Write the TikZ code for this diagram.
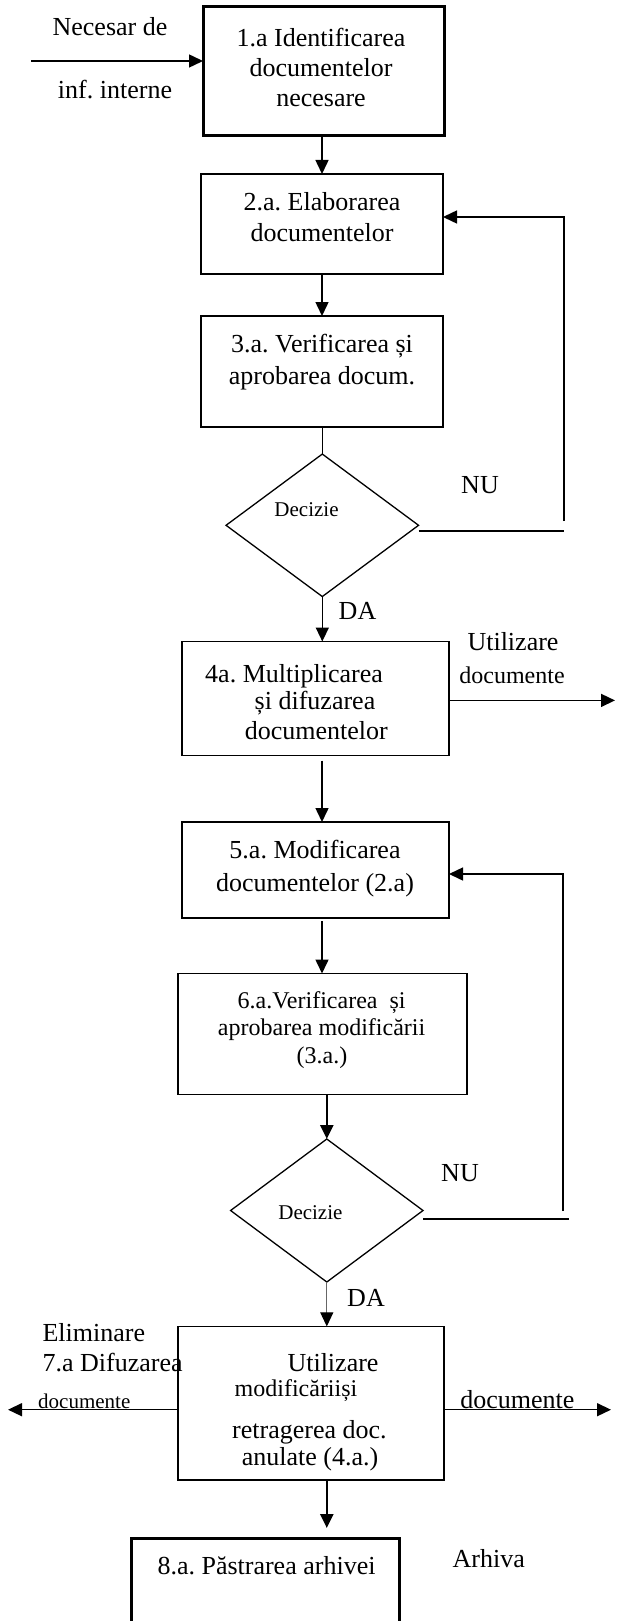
\documentclass[tikz,border=0pt]{standalone}
\usepackage{fontspec}
\setmainfont{Liberation Serif}
\frenchspacing
\usetikzlibrary{arrows.meta,shapes.geometric}
\tikzset{
  box/.style={draw, line width=1.8pt, inner sep=0pt, outer sep=0pt, anchor=north west},
  thickbox/.style={box, line width=3pt},
  dec/.style={draw, diamond, line width=1.3pt, inner sep=0pt, outer sep=0pt},
  arr/.style={-{Triangle[length=14pt,width=13pt]}, line width=1.5pt},
  heavyarr/.style={arr, line width=2.4pt},
  thinarr/.style={-{Triangle[length=14pt,width=13pt,color=black]}, line width=1pt, draw=black!60},
  ln/.style={line width=1.5pt},
  txt/.style={inner sep=0pt, anchor=base, font=\fontsize{26}{31}\selectfont},
  txtm/.style={txt, font=\fontsize{24}{29}\selectfont},
  txts/.style={txt, font=\fontsize{21}{25}\selectfont},
}
\begin{document}
\begin{tikzpicture}[x=1pt,y=-1pt]
\useasboundingbox (0,0) rectangle (616,1621);
% boxes
\node[thickbox, minimum width=241pt, minimum height=129.3pt] (b1) at (203,6.3) {};
\node[box, minimum width=242pt, minimum height=100pt] (b2) at (201,174) {};
\node[box, minimum width=242pt, minimum height=111pt] (b3) at (201,316) {};
\node[dec, minimum width=192.5pt, minimum height=142.5pt] (d1) at (322.3,525.3) {};
\node[box, minimum width=266.7pt, minimum height=114pt] (b4) at (182,641.5) {};
\node[box, minimum width=267pt, minimum height=96pt] (b5) at (182,822) {};
\node[box, minimum width=289.2pt, minimum height=121pt] (b6) at (177.6,973.5) {};
\node[dec, minimum width=192.4pt, minimum height=143pt] (d2) at (326.8,1210.5) {};
\node[box, minimum width=266.4pt, minimum height=153.2pt] (b7) at (177.6,1326.4) {};
\node[thickbox, minimum width=268pt, minimum height=120pt] (b8) at (131,1538) {};
% helper coordinates
\coordinate (col) at (322,0);
\coordinate (inS) at (31,61);
\coordinate (r1) at (564,531);
\coordinate (r1t) at (564,521);
\coordinate (r1b) at (564,217);
\coordinate (o1) at (615,700.4);
\coordinate (r2) at (568.6,1219);
\coordinate (r2t) at (563,1211);
\coordinate (r2b) at (563,874);
\coordinate (oL) at (8,1409.7);
\coordinate (oR) at (611,1409.7);
% connectors
\draw[arr] (inS) -- (inS -| b1.west);
\draw[arr] (b1.south -| col) -- (b2.north -| col);
\draw[arr] (b2.south -| col) -- (b3.north -| col);
\draw[ln] (b3.south -| d1.north) -- (d1.north);
\draw[arr] (d1.south) -- (d1.south |- b4.north);
\draw[ln] (d1.east |- r1) -- (r1);
\draw[arr] (r1t) -- (r1b) -- (r1b -| b2.east);
\draw[arr] (b4.east |- o1) -- (o1);
\draw[arr, shorten <=5pt] (b4.south -| col) -- (b5.north -| col);
\draw[arr, shorten <=3pt] (b5.south -| col) -- (b6.north -| col);
\draw[ln] (d2.east |- r2) -- (r2);
\draw[arr] (r2t) -- (r2b) -- (r2b -| b5.east);
\draw[heavyarr] (b6.south -| d2.north) -- (d2.north);
\draw[thinarr] (d2.south) -- (d2.south |- b7.north);
\draw[arr] (b7.west |- oL) -- (oL);
\draw[arr] (b7.east |- oR) -- (oR);
\draw[heavyarr, shorten >=10pt] (b7.south -| d2.south) -- (b8.north -| d2.south);
% texts
\node[txt] (n1) at (110,36) {Necesar de};
\node[txt] (n2) at (115,98.5) {inf. interne};
\node[txt] (t1a) at (321,46.5) {1.a Identificarea};
\node[txt] (t1b) at (321,77) {documentelor};
\node[txt] (t1c) at (321,107) {necesare};
\node[txt] (t2a) at (322,211) {2.a. Elaborarea};
\node[txt] (t2b) at (322,242) {documentelor};
\node[txt] (t3a) at (322,352.5) {3.a. Verificarea și};
\node[txt] (t3b) at (322,384) {aprobarea docum.};
\node[txts] (dz1) at (306.5,516) {Decizie};
\node[txt] (nu1) at (480,493) {NU};
\node[txt] (da1) at (357.5,619) {DA};
\node[txt] (t4a) at (294,682) {4a. Multiplicarea};
\node[txt] (t4b) at (315,709.4) {și difuzarea};
\node[txt] (t4c) at (316.3,739.7) {documentelor};
\node[txt] (u1) at (513,650) {Utilizare};
\node[txtm] (u1b) at (512,683) {documente};
\node[txt] (t5a) at (315,858.7) {5.a. Modificarea};
\node[txt] (t5b) at (315,891) {documentelor (2.a)};
\node[txtm] (t6a) at (321.6,1008) {6.a.Verificarea\ \ și};
\node[txtm] (t6b) at (321.6,1035.6) {aprobarea modificării};
\node[txtm] (t6c) at (322,1063) {(3.a.)};
\node[txts] (dz2) at (310.4,1219) {Decizie};
\node[txt] (nu2) at (460,1181) {NU};
\node[txt] (da2) at (366,1306.4) {DA};
\node[txt, anchor=base west] (el) at (42.4,1341) {Eliminare};
\node[txt, anchor=base west] (t7a) at (42.4,1371.6) {7.a Difuzarea};
\node[txts, anchor=base west] (dl) at (38,1408.5) {documente};
\node[txt] (u7) at (333,1371.6) {Utilizare};
\node[txtm] (t7b) at (296,1396) {modificăriiși};
\node[txt] (t7c) at (309.4,1438) {retragerea doc.};
\node[txt] (t7d) at (310,1465.5) {anulate (4.a.)};
\node[txt] (dr) at (517.3,1408.5) {documente};
\node[txt] (t8) at (266.5,1574.7) {8.a. Păstrarea arhivei};
\node[txt] (ar) at (488.8,1567.7) {Arhiva};
\end{tikzpicture}
\end{document}
